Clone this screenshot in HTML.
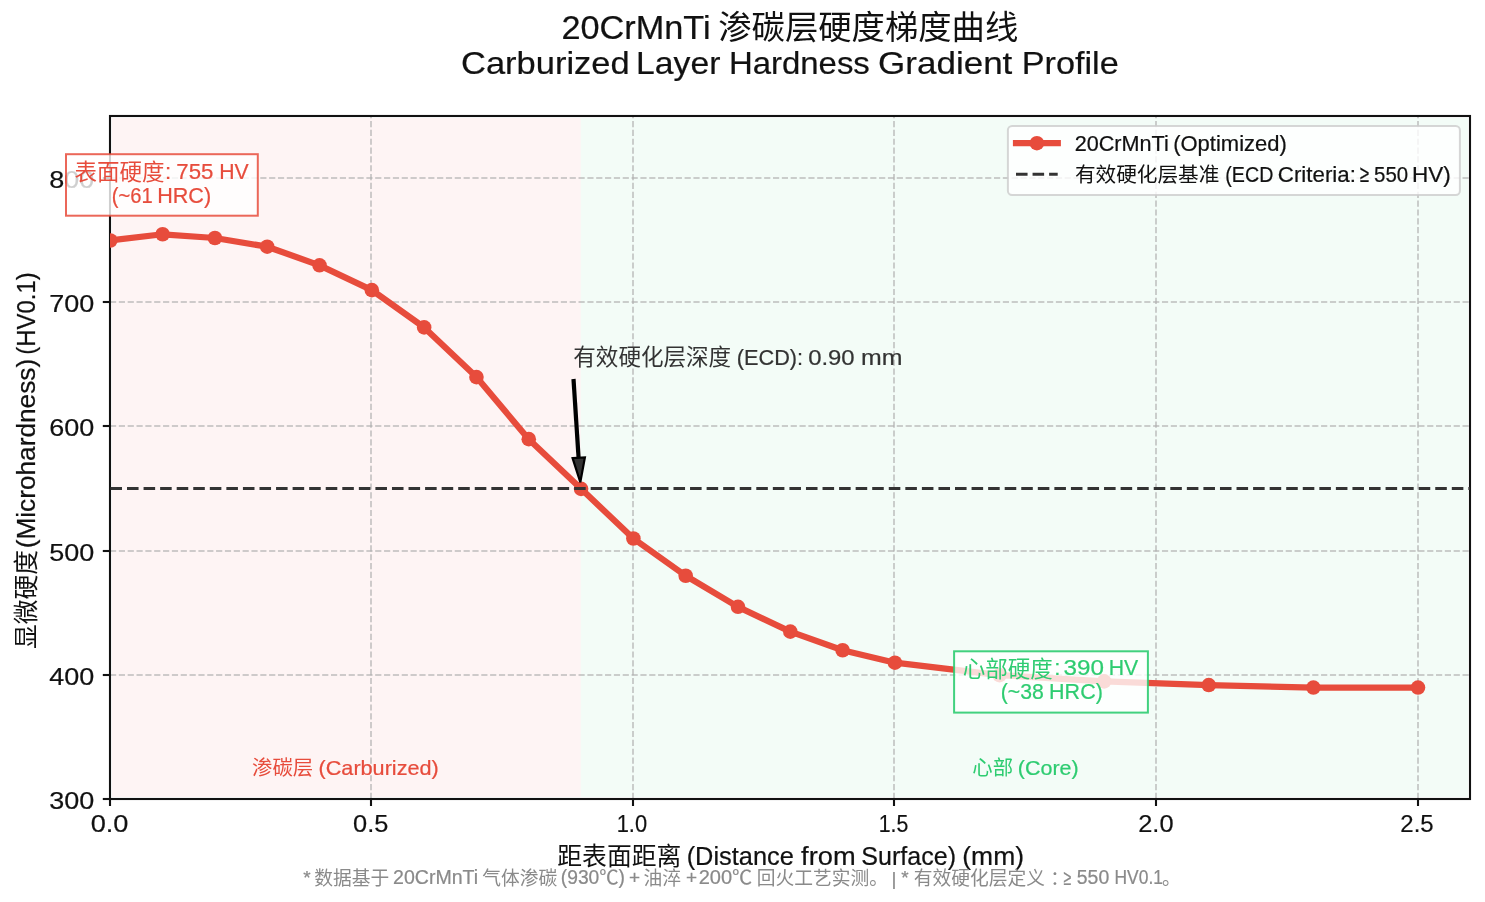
<!DOCTYPE html>
<html lang="zh-CN"><head><meta charset="utf-8">
<title>20CrMnTi 渗碳层硬度梯度曲线</title>
<style>
html,body{margin:0;padding:0;background:#fff;}
body{width:1485px;height:902px;overflow:hidden;}
svg{display:block;will-change:transform;}
text{font-family:"Liberation Sans", "Noto Sans CJK SC", sans-serif;}
</style></head><body>
<svg xmlns="http://www.w3.org/2000/svg" width="1485" height="902" viewBox="0 0 1485 902">
<defs><clipPath id="axclip"><rect x="110" y="116" width="1360" height="683"/></clipPath></defs>
<rect x="0" y="0" width="1485" height="902" fill="#ffffff"/>
<rect x="112" y="118" width="468.769" height="679" fill="#e74c3c" fill-opacity="0.06"/>
<rect x="580.769" y="118" width="887.231" height="679" fill="#2ecc71" fill-opacity="0.06"/>
<g stroke="#b0b0b0" stroke-opacity="0.62" stroke-width="2" stroke-dasharray="6.17 2.67" fill="none">
<line x1="371" y1="799" x2="371" y2="116"/>
<line x1="633" y1="799" x2="633" y2="116"/>
<line x1="894" y1="799" x2="894" y2="116"/>
<line x1="1156" y1="799" x2="1156" y2="116"/>
<line x1="1418" y1="799" x2="1418" y2="116"/>
<line x1="110" y1="675" x2="1470" y2="675"/>
<line x1="110" y1="551" x2="1470" y2="551"/>
<line x1="110" y1="426" x2="1470" y2="426"/>
<line x1="110" y1="302" x2="1470" y2="302"/>
<line x1="110" y1="178" x2="1470" y2="178"/>
</g>
<rect x="110" y="116" width="1360" height="683" fill="none" stroke="#111" stroke-width="2.1"/>
<g stroke="#111" stroke-width="2.1">
<line x1="110" y1="799" x2="110" y2="806"/>
<line x1="371" y1="799" x2="371" y2="806"/>
<line x1="633" y1="799" x2="633" y2="806"/>
<line x1="894" y1="799" x2="894" y2="806"/>
<line x1="1156" y1="799" x2="1156" y2="806"/>
<line x1="1418" y1="799" x2="1418" y2="806"/>
<line x1="102.8" y1="799" x2="110" y2="799"/>
<line x1="102.8" y1="675" x2="110" y2="675"/>
<line x1="102.8" y1="551" x2="110" y2="551"/>
<line x1="102.8" y1="426" x2="110" y2="426"/>
<line x1="102.8" y1="302" x2="110" y2="302"/>
<line x1="102.8" y1="178" x2="110" y2="178"/>
</g>
<g font-size="24.8" fill="#111" stroke="#111" stroke-width="0.2">
<text x="109.60" y="832.0" text-anchor="middle" textLength="37.8" lengthAdjust="spacingAndGlyphs">0.0</text>
<text x="370.70" y="832.0" text-anchor="middle" textLength="35.3" lengthAdjust="spacingAndGlyphs">0.5</text>
<text x="631.90" y="832.0" text-anchor="middle" textLength="30.4" lengthAdjust="spacingAndGlyphs">1.0</text>
<text x="893.50" y="832.0" text-anchor="middle" textLength="29.6" lengthAdjust="spacingAndGlyphs">1.5</text>
<text x="1155.90" y="832.0" text-anchor="middle" textLength="35.3" lengthAdjust="spacingAndGlyphs">2.0</text>
<text x="1417.00" y="832.0" text-anchor="middle" textLength="33.3" lengthAdjust="spacingAndGlyphs">2.5</text>
<text x="94.2" y="809.00" text-anchor="end" textLength="45" lengthAdjust="spacingAndGlyphs">300</text>
<text x="94.2" y="684.82" text-anchor="end" textLength="45" lengthAdjust="spacingAndGlyphs">400</text>
<text x="94.2" y="560.64" text-anchor="end" textLength="45" lengthAdjust="spacingAndGlyphs">500</text>
<text x="94.2" y="436.45" text-anchor="end" textLength="45" lengthAdjust="spacingAndGlyphs">600</text>
<text x="94.2" y="312.27" text-anchor="end" textLength="45" lengthAdjust="spacingAndGlyphs">700</text>
<text x="94.2" y="188.09" text-anchor="end" textLength="45" lengthAdjust="spacingAndGlyphs">800</text>
</g>
<g clip-path="url(#axclip)"><g transform="translate(0.3,0.3)">
<polyline points="110.00,240.18 162.31,233.97 214.62,237.70 266.92,246.39 319.23,265.02 371.54,289.85 423.85,327.11 476.15,376.78 528.46,438.87 580.77,488.55 633.08,538.22 685.38,575.47 737.69,606.52 790.00,631.35 842.31,649.98 894.62,662.40 999.23,674.82 1103.85,681.03 1208.46,684.75 1313.08,687.24 1417.69,687.24" fill="none" stroke="#e74c3c" stroke-width="6.25" stroke-linejoin="round" stroke-linecap="butt"/>
<circle cx="110.00" cy="240.18" r="7.3" fill="#e74c3c"/>
<circle cx="162.31" cy="233.97" r="7.3" fill="#e74c3c"/>
<circle cx="214.62" cy="237.70" r="7.3" fill="#e74c3c"/>
<circle cx="266.92" cy="246.39" r="7.3" fill="#e74c3c"/>
<circle cx="319.23" cy="265.02" r="7.3" fill="#e74c3c"/>
<circle cx="371.54" cy="289.85" r="7.3" fill="#e74c3c"/>
<circle cx="423.85" cy="327.11" r="7.3" fill="#e74c3c"/>
<circle cx="476.15" cy="376.78" r="7.3" fill="#e74c3c"/>
<circle cx="528.46" cy="438.87" r="7.3" fill="#e74c3c"/>
<circle cx="580.77" cy="488.55" r="7.3" fill="#e74c3c"/>
<circle cx="633.08" cy="538.22" r="7.3" fill="#e74c3c"/>
<circle cx="685.38" cy="575.47" r="7.3" fill="#e74c3c"/>
<circle cx="737.69" cy="606.52" r="7.3" fill="#e74c3c"/>
<circle cx="790.00" cy="631.35" r="7.3" fill="#e74c3c"/>
<circle cx="842.31" cy="649.98" r="7.3" fill="#e74c3c"/>
<circle cx="894.62" cy="662.40" r="7.3" fill="#e74c3c"/>
<circle cx="999.23" cy="674.82" r="7.3" fill="#e74c3c"/>
<circle cx="1103.85" cy="681.03" r="7.3" fill="#e74c3c"/>
<circle cx="1208.46" cy="684.75" r="7.3" fill="#e74c3c"/>
<circle cx="1313.08" cy="687.24" r="7.3" fill="#e74c3c"/>
<circle cx="1417.69" cy="687.24" r="7.3" fill="#e74c3c"/>
</g></g>
<line x1="110.45" y1="488.55" x2="1470" y2="488.55" stroke="#333" stroke-width="3.125" stroke-dasharray="11.56 5"/>
<text x="561.45" y="39.0" font-size="33.3" fill="#111" stroke="#111" stroke-width="0.22" textLength="149.21" lengthAdjust="spacingAndGlyphs">20CrMnTi</text>
<text x="718.3" y="39.0" font-size="33.33" fill="#111">渗碳层硬度梯度曲线</text>
<text x="461.05" y="73.7" font-size="32.2" fill="#111" stroke="#111" stroke-width="0.22" textLength="168.57" lengthAdjust="spacingAndGlyphs">Carburized</text>
<text x="636.10" y="73.7" font-size="32.2" fill="#111" stroke="#111" stroke-width="0.22" textLength="84.29" lengthAdjust="spacingAndGlyphs">Layer</text>
<text x="729.00" y="73.7" font-size="32.2" fill="#111" stroke="#111" stroke-width="0.22" textLength="140.80" lengthAdjust="spacingAndGlyphs">Hardness</text>
<text x="878.12" y="73.7" font-size="32.2" fill="#111" stroke="#111" stroke-width="0.22" textLength="134.24" lengthAdjust="spacingAndGlyphs">Gradient</text>
<text x="1021.69" y="73.7" font-size="32.2" fill="#111" stroke="#111" stroke-width="0.22" textLength="97.08" lengthAdjust="spacingAndGlyphs">Profile</text>
<text x="557.3" y="865.4" font-size="24.8" fill="#111">距表面距离</text>
<text x="686.67" y="865.1" font-size="26" fill="#111" stroke="#111" stroke-width="0.22" textLength="107.17" lengthAdjust="spacingAndGlyphs">(Distance</text>
<text x="801.13" y="865.1" font-size="26" fill="#111" stroke="#111" stroke-width="0.22" textLength="54.54" lengthAdjust="spacingAndGlyphs">from</text>
<text x="861.35" y="865.1" font-size="26" fill="#111" stroke="#111" stroke-width="0.22" textLength="94.65" lengthAdjust="spacingAndGlyphs">Surface)</text>
<text x="962.30" y="865.1" font-size="26" fill="#111" stroke="#111" stroke-width="0.22" textLength="61.76" lengthAdjust="spacingAndGlyphs">(mm)</text>
<g transform="translate(35.0,649) rotate(-90)">
<text x="0.0" y="-0.3" font-size="24.75" fill="#111">显微硬度</text>
<text x="100.68" y="0.0" font-size="26" fill="#111" stroke="#111" stroke-width="0.22" textLength="189.47" lengthAdjust="spacingAndGlyphs">(Microhardness)</text>
<text x="294.33" y="0.0" font-size="26" fill="#111" stroke="#111" stroke-width="0.22" textLength="82.30" lengthAdjust="spacingAndGlyphs">(HV0.1)</text>
</g>
<text x="303.3" y="884.3" font-size="19" fill="#8a8a8a" stroke="#8a8a8a" stroke-width="0.22">*</text>
<text x="314.2" y="885.3" font-size="18.75" fill="#8a8a8a">数据基于</text>
<text x="393.06" y="884.3" font-size="19.3" fill="#8a8a8a" stroke="#8a8a8a" stroke-width="0.22" textLength="85.11" lengthAdjust="spacingAndGlyphs">20CrMnTi</text>
<text x="482.2" y="885.3" font-size="18.75" fill="#8a8a8a">气体渗碳</text>
<text x="560.78" y="884.3" font-size="19.3" fill="#8a8a8a" stroke="#8a8a8a" stroke-width="0.22" textLength="64.20" lengthAdjust="spacingAndGlyphs">(930℃)</text>
<text x="629.0" y="884.3" font-size="19" fill="#8a8a8a" stroke="#8a8a8a" stroke-width="0.22">+</text>
<text x="643.5" y="885.3" font-size="18.75" fill="#8a8a8a">油淬</text>
<text x="686.0" y="884.3" font-size="19" fill="#8a8a8a" stroke="#8a8a8a" stroke-width="0.22">+</text>
<text x="698.67" y="884.3" font-size="19.3" fill="#8a8a8a" stroke="#8a8a8a" stroke-width="0.22" textLength="53.49" lengthAdjust="spacingAndGlyphs">200℃</text>
<text x="756.8" y="885.3" font-size="18.75" fill="#8a8a8a">回火工艺实测。</text>
<text x="891.6" y="885.3" font-size="19" fill="#8a8a8a" stroke="#8a8a8a" stroke-width="0.22">|</text>
<text x="901.3" y="884.3" font-size="19" fill="#8a8a8a" stroke="#8a8a8a" stroke-width="0.22">*</text>
<text x="913.8" y="885.3" font-size="18.75" fill="#8a8a8a">有效硬化层定义</text>
<text x="1050.2" y="885.3" font-size="18.75" fill="#8a8a8a">：</text>
<text x="1063.46" y="884.5" font-size="21.5" fill="#8a8a8a" stroke="#8a8a8a" stroke-width="0.22" textLength="7.74" lengthAdjust="spacingAndGlyphs">≥</text>
<text x="1076.79" y="884.3" font-size="19.3" fill="#8a8a8a" stroke="#8a8a8a" stroke-width="0.22" textLength="32.48" lengthAdjust="spacingAndGlyphs">550</text>
<text x="1114.52" y="884.3" font-size="19.3" fill="#8a8a8a" stroke="#8a8a8a" stroke-width="0.22" textLength="48.41" lengthAdjust="spacingAndGlyphs">HV0.1</text>
<text x="1162.0" y="885.3" font-size="18.75" fill="#8a8a8a">。</text>
<text x="252.0" y="774.9" font-size="20.4" fill="#e74c3c">渗碳层</text>
<text x="318.52" y="774.8" font-size="21" fill="#e74c3c" stroke="#e74c3c" stroke-width="0.22" textLength="120.24" lengthAdjust="spacingAndGlyphs">(Carburized)</text>
<text x="972.3" y="774.9" font-size="20.4" fill="#2ecc71">心部</text>
<text x="1017.77" y="774.8" font-size="21" fill="#2ecc71" stroke="#2ecc71" stroke-width="0.22" textLength="60.89" lengthAdjust="spacingAndGlyphs">(Core)</text>
<text x="573.3" y="365.4" font-size="22.55" fill="#333">有效硬化层深度</text>
<text x="736.84" y="365.0" font-size="22.4" fill="#333" stroke="#333" stroke-width="0.22" textLength="66.30" lengthAdjust="spacingAndGlyphs">(ECD):</text>
<text x="808.17" y="365.0" font-size="22.4" fill="#333" stroke="#333" stroke-width="0.22" textLength="46.51" lengthAdjust="spacingAndGlyphs">0.90</text>
<text x="860.93" y="365.0" font-size="22.4" fill="#333" stroke="#333" stroke-width="0.22" textLength="41.44" lengthAdjust="spacingAndGlyphs">mm</text>
<line x1="573.5" y1="379" x2="578.6" y2="458" stroke="#000" stroke-width="4.2" stroke-linecap="butt"/>
<polygon points="572.6,458.2 584.9,457.4 580.3,482.2" fill="#333" stroke="#000" stroke-width="2.2" stroke-linejoin="miter" stroke-miterlimit="3"/>
<rect x="66" y="154.2" width="191.8" height="61.5" fill="#fff" fill-opacity="0.8" stroke="#e74c3c" stroke-opacity="0.85" stroke-width="2"/>
<text x="74.6" y="179.9" font-size="22.5" fill="#e74c3c">表面硬度</text>
<text x="165.0" y="179.0" font-size="22.3" fill="#e74c3c" stroke="#e74c3c" stroke-width="0.22">:</text>
<text x="176.27" y="179.0" font-size="22.3" fill="#e74c3c" stroke="#e74c3c" stroke-width="0.22" textLength="37.11" lengthAdjust="spacingAndGlyphs">755</text>
<text x="219.15" y="179.0" font-size="22.3" fill="#e74c3c" stroke="#e74c3c" stroke-width="0.22" textLength="29.48" lengthAdjust="spacingAndGlyphs">HV</text>
<text x="111.82" y="202.7" font-size="22.3" fill="#e74c3c" stroke="#e74c3c" stroke-width="0.22" textLength="40.97" lengthAdjust="spacingAndGlyphs">(~61</text>
<text x="157.19" y="202.7" font-size="22.3" fill="#e74c3c" stroke="#e74c3c" stroke-width="0.22" textLength="53.95" lengthAdjust="spacingAndGlyphs">HRC)</text>
<rect x="954.1" y="651.3" width="193.8" height="61.3" fill="#fff" fill-opacity="0.8" stroke="#2ecc71" stroke-opacity="0.9" stroke-width="2"/>
<text x="962.7" y="676.8" font-size="22.5" fill="#2ecc71">心部硬度</text>
<text x="1054.3" y="675.1" font-size="22.3" fill="#2ecc71" stroke="#2ecc71" stroke-width="0.22">:</text>
<text x="1063.48" y="675.1" font-size="22.3" fill="#2ecc71" stroke="#2ecc71" stroke-width="0.22" textLength="40.46" lengthAdjust="spacingAndGlyphs">390</text>
<text x="1108.72" y="675.1" font-size="22.3" fill="#2ecc71" stroke="#2ecc71" stroke-width="0.22" textLength="29.48" lengthAdjust="spacingAndGlyphs">HV</text>
<text x="1000.72" y="699.4" font-size="22.3" fill="#2ecc71" stroke="#2ecc71" stroke-width="0.22" textLength="43.06" lengthAdjust="spacingAndGlyphs">(~38</text>
<text x="1049.12" y="699.4" font-size="22.3" fill="#2ecc71" stroke="#2ecc71" stroke-width="0.22" textLength="53.68" lengthAdjust="spacingAndGlyphs">HRC)</text>
<rect x="1007.9" y="126" width="452" height="68.9" rx="4.2" ry="4.2" fill="#fff" fill-opacity="0.8" stroke="#cccccc" stroke-opacity="0.8" stroke-width="2"/>
<line x1="1012.9" y1="143.2" x2="1060.9" y2="143.2" stroke="#e74c3c" stroke-width="6.25"/>
<circle cx="1036.9" cy="143.2" r="7.3" fill="#e74c3c"/>
<line x1="1016" y1="174.3" x2="1057.7" y2="174.3" stroke="#333" stroke-width="3.125" stroke-dasharray="11.56 5"/>
<text x="1074.71" y="150.6" font-size="21.3" fill="#111" stroke="#111" stroke-width="0.22" textLength="94.02" lengthAdjust="spacingAndGlyphs">20CrMnTi</text>
<text x="1173.20" y="150.6" font-size="21.3" fill="#111" stroke="#111" stroke-width="0.22" textLength="113.64" lengthAdjust="spacingAndGlyphs">(Optimized)</text>
<text x="1074.9" y="182.2" font-size="20.65" fill="#111">有效硬化层基准</text>
<text x="1225.30" y="182.2" font-size="21.3" fill="#111" stroke="#111" stroke-width="0.22" textLength="48.05" lengthAdjust="spacingAndGlyphs">(ECD</text>
<text x="1277.84" y="182.2" font-size="21.3" fill="#111" stroke="#111" stroke-width="0.22" textLength="78.09" lengthAdjust="spacingAndGlyphs">Criteria:</text>
<text x="1359.76" y="182.4" font-size="24" fill="#111" stroke="#111" stroke-width="0.22" textLength="9.25" lengthAdjust="spacingAndGlyphs">≥</text>
<text x="1374.10" y="182.2" font-size="21.3" fill="#111" stroke="#111" stroke-width="0.22" textLength="34.07" lengthAdjust="spacingAndGlyphs">550</text>
<text x="1411.96" y="182.2" font-size="21.3" fill="#111" stroke="#111" stroke-width="0.22" textLength="38.80" lengthAdjust="spacingAndGlyphs">HV)</text>
</svg>
</body></html>
